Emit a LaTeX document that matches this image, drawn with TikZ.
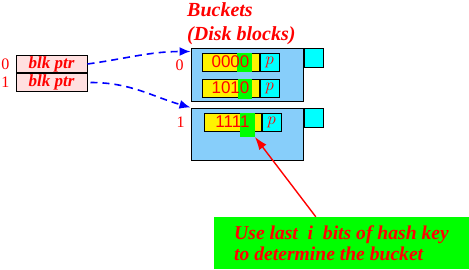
\documentclass[tikz,border=0pt]{standalone}
\usepackage{fontspec}
\setmainfont{Liberation Serif}
\newfontfamily\digitfont{Liberation Sans}
\usetikzlibrary{positioning, arrows.meta, calc}

\definecolor{bucketblue}{RGB}{135,206,250}
\definecolor{dirpink}{RGB}{255,224,224}
\definecolor{hashgreen}{RGB}{0,255,0}
\definecolor{tabcyan}{RGB}{0,255,255}

\begin{document}
\begin{tikzpicture}[
    x=1pt, y=1pt,
    dirbox/.style={
        rectangle, draw=black, line width=1pt, fill=dirpink,
        minimum width=71pt, minimum height=17.5pt, inner sep=0pt,
        text=red, font=\fontsize{17}{19}\selectfont\bfseries\itshape
    },
    bucket/.style={
        rectangle, draw=black, line width=1pt, fill=bucketblue,
        minimum width=112pt, minimum height=53pt, inner sep=0pt
    },
    tab/.style={
        rectangle, draw=black, line width=1pt, fill=tabcyan,
        minimum size=19pt, inner sep=0pt, anchor=north west
    },
    keybox/.style={
        rectangle, draw=black, line width=1pt, fill=yellow,
        minimum width=57pt, minimum height=18pt, inner sep=0pt
    },
    lastbit/.style={
        rectangle, fill=hashgreen, minimum width=15pt, minimum height=19pt, inner sep=0pt
    },
    keytext/.style={text=red, inner sep=0pt, font=\fontsize{17}{19}\digitfont},
    pbox/.style={
        rectangle, draw=black, line width=1pt, fill=tabcyan,
        minimum width=19pt, minimum height=18pt, inner sep=0pt,
        text=red, font=\fontsize{16}{18}\selectfont\bfseries\itshape
    },
    idx/.style={text=red, inner sep=0pt, font=\fontsize{16}{18}\selectfont},
    title/.style={
        text=red, inner sep=0pt, align=left, anchor=north west,
        font=\fontsize{20}{24}\selectfont\bfseries\itshape
    },
    notebox/.style={
        rectangle, fill=hashgreen, minimum width=255pt, minimum height=52pt,
        inner sep=0pt, align=left, text=red,
        font=\fontsize{19.6}{21}\selectfont\bfseries\itshape
    },
    ptr/.style={blue, line width=1.6pt, dash pattern=on 7pt off 5pt, -{Latex[length=11pt,width=9pt]}},
    hint/.style={red, line width=1.4pt, -{Latex[length=13pt,width=9pt]}}
]
\useasboundingbox (0,0) rectangle (469,269);

% ---------------- Directory ----------------
\node[dirbox] (dir0) at (51.5,205) {blk ptr};
\node[dirbox, below=0pt of dir0] (dir1) {blk ptr};
\node[idx, left=6pt of dir0] (dlbl0) {0};
\node[idx, left=6pt of dir1] (dlbl1) {1};

% ---------------- Buckets ----------------
\node[title] (title) at (187,267) {Buckets\\(Disk blocks)};

\node[bucket] (bucket0) at (247,194.5) {};
\node[tab] (tab0) at (bucket0.north east) {};
\node[bucket, minimum height=52pt] (bucket1) at (247,135) {};
\node[tab] (tab1) at (bucket1.north east) {};
\node[idx] (blbl0) at ($(bucket0.north west)+(-11,-18)$) {0};
\node[idx] (blbl1) at ($(bucket1.north west)+(-10,-15)$) {1};

% ---------------- Records ----------------
\node[keybox, below right=5pt and 11pt of bucket0.north west] (key0) {};
\node[lastbit, right=35pt of key0.west] (bit0) {};
\node[keytext] (k0txt) at (key0.center) {0000};
\node[pbox, right=0pt of key0] (p0) {$p$};

\node[keybox, below=7pt of key0] (key1) {};
\node[lastbit, minimum width=14pt, minimum height=20pt, below right=0pt and 36pt of key1.north west] (bit1) {};
\node[keytext] (k1txt) at (key1.center) {1010};
\node[pbox, right=0pt of key1] (p1) {$p$};

\node[keybox, below right=5pt and 13pt of bucket1.north west] (key2) {};
\node[lastbit, minimum height=24pt, below right=0pt and 36pt of key2.north west] (bit2) {};
\node[keytext] (k2txt) at (key2.center) {1111};
\node[pbox, right=0pt of key2] (p2) {$p$};

% ---------------- Note ----------------
\node[notebox] (note) at (341.5,26) {Use last \ i \ bits of hash key\\to determine the bucket};

% ---------------- Arrows ----------------
\draw[ptr] (dir0.east) to[out=8, in=180] ([yshift=-4pt]bucket0.north west);
\draw[ptr] ([xshift=3pt]dir1.east) to[out=0, in=164] (bucket1.north west);
\draw[hint] ($(note.north west)+(102,0)$) -- (bit2.south east);

\end{tikzpicture}
\end{document}
